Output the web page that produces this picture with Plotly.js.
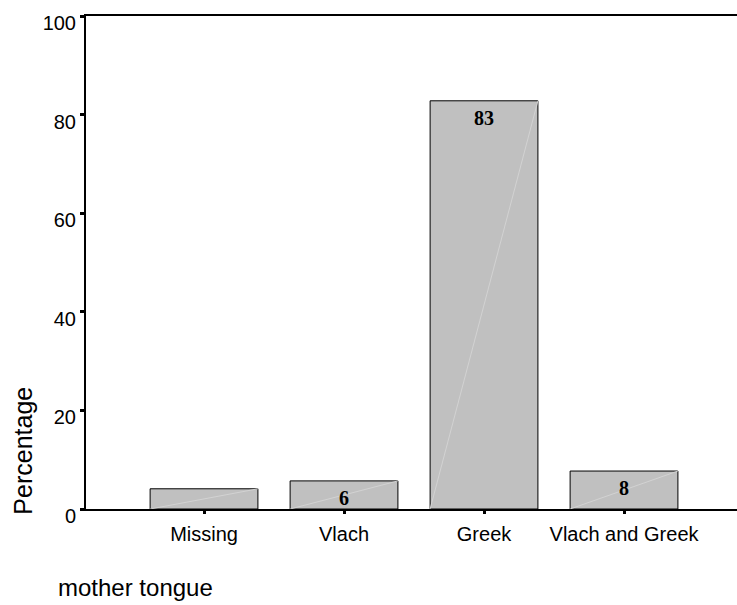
<!DOCTYPE html>
<html>
<head>
<meta charset="utf-8">
<script src="https://cdn.plot.ly/plotly-3.0.1.min.js"></script>
<style>html,body{margin:0;padding:0;background:#fff;}#chart{width:737px;height:605px;}</style>
</head>
<body>
<div id="chart"></div>
<script>
const categories = ["Missing", "Vlach", "Greek", "Vlach and Greek"];
const percentages = [4.1, 5.7, 82.8, 7.7];
const barLabels = ["", "6", "83", "8"];
const yTicks = [0, 20, 40, 60, 80, 100];

const barWidth = 0.77;

const trace = {
  type: "bar",
  x: categories,
  y: percentages,
  marker: {color: "#c0c0c0", line: {color: "#000", width: 1}},
  width: barWidth,
  hoverinfo: "none"
};

// faint diagonal inside each bar (bottom-left to top-right), as in the reference
const diagShapes = percentages.map((v, i) => ({
  type: "line", xref: "x", yref: "y",
  x0: i - barWidth / 2, y0: 0, x1: i + barWidth / 2, y1: v,
  line: {color: "#d2d2d2", width: 1}, layer: "above"
}));

const labelAnnotations = barLabels.map((t, i) => ({
  text: t ? "<b>" + t + "</b>" : "", x: categories[i], y: percentages[i], xref: "x", yref: "y",
  xanchor: "center", yanchor: "middle", yshift: -17, showarrow: false,
  font: {family: "Liberation Serif, Times New Roman, serif", size: 20, color: "#000"}
})).filter(a => a.text);

const layout = {
  width: 737, height: 605,
  margin: {l: 86, r: 0, t: 16, b: 96},
  paper_bgcolor: "#fff", plot_bgcolor: "#fff",
  showlegend: false,
  font: {family: "Liberation Sans, Arial, sans-serif", size: 16, color: "#000"},
  xaxis: {
    type: "category",
    range: [-0.843, 3.807],
    showline: true, linecolor: "#000", linewidth: 2, mirror: true,
    ticks: "outside", ticklen: 3, tickwidth: 3, tickcolor: "#000",
    showgrid: false, zeroline: false,
    ticklabelstandoff: 3,
    tickfont: {size: 20}
  },
  yaxis: {
    range: [0, 100],
    tickvals: yTicks,
    showline: true, linecolor: "#000", linewidth: 2,
    ticks: "outside", ticklen: 4, tickwidth: 3, tickcolor: "#000",
    showgrid: false, zeroline: false,
    ticklabelshift: 7,
    tickfont: {size: 20}
  },
  shapes: diagShapes,
  annotations: labelAnnotations.concat([
    {text: "Percentage", xref: "paper", yref: "paper", x: -0.097, y: 0.118,
     xanchor: "center", yanchor: "middle", textangle: -90, showarrow: false,
     font: {size: 25}},
    {text: "mother tongue", xref: "paper", yref: "paper", x: -0.046, y: -0.16,
     xanchor: "left", yanchor: "middle", showarrow: false,
     font: {size: 24}}
  ])
};

Plotly.newPlot("chart", [trace], layout, {displayModeBar: false, staticPlot: true});
</script>
</body>
</html>
